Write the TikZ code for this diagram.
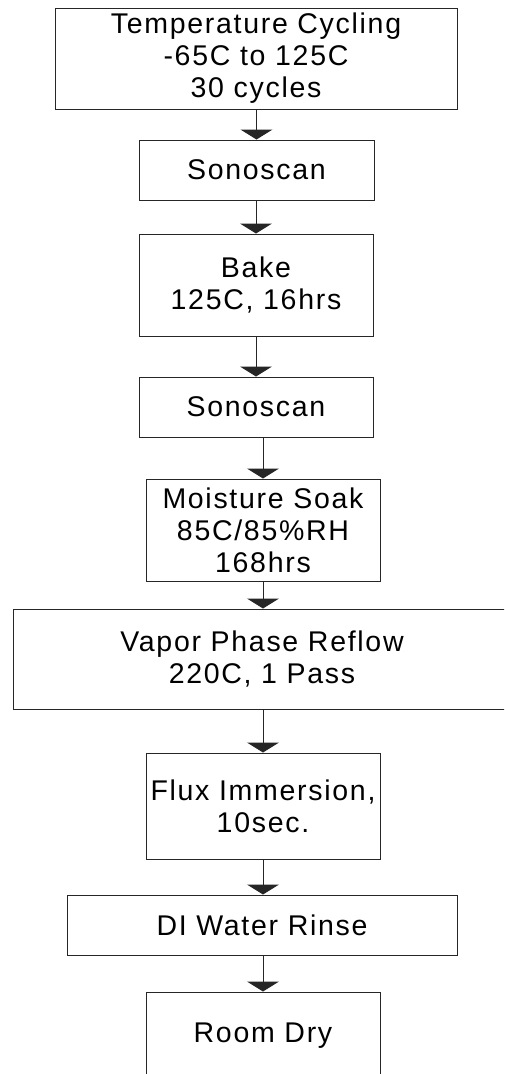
\documentclass[tikz,border=0pt]{standalone}
\usepackage{fontspec}
\newfontfamily\lsans[LetterSpace=6]{Liberation Sans}
\usetikzlibrary{arrows.meta}
\tikzset{
  stepbox/.style={draw=black!85, line width=1pt, inner sep=0pt, align=center,
    font=\lsans\fontsize{28.5}{32}\selectfont, text=black},
  flow/.style={draw=black!85, line width=1pt, -{Triangle[width=32pt,length=10pt]}}
}
\begin{document}
\begin{tikzpicture}[x=1pt,y=-1pt]
\useasboundingbox (0,0) rectangle (504,1074);
\clip (0,0) rectangle (504,1074);
\node[stepbox, minimum width=402pt, minimum height=101pt] (t1) at (256,58.5) {Temperature Cycling\\-65C to 125C\\30 cycles};
\node[stepbox, minimum width=235pt, minimum height=60pt] (t2) at (256.5,170) {Sonoscan};
\node[stepbox, minimum width=234pt, minimum height=102pt] (t3) at (256,285) {Bake\\125C, 16hrs};
\node[stepbox, minimum width=234pt, minimum height=60pt] (t4) at (256,407) {Sonoscan};
\node[stepbox, minimum width=234pt, minimum height=102pt] (t5) at (263,530) {Moisture Soak\\85C/85\%RH\\168hrs};
\node[stepbox, minimum width=498pt, minimum height=100pt] (t6) at (262,659) {Vapor Phase Reflow\\220C, 1 Pass};
\node[stepbox, minimum width=234pt, minimum height=106pt] (t7) at (263,806) {Flux Immersion,\\10sec.};
\node[stepbox, minimum width=390pt, minimum height=60pt] (t8) at (262,925) {DI Water Rinse};
\node[stepbox, minimum width=234pt, minimum height=88pt] (t9) at (263,1036) {Room Dry};
\draw[flow] (t1.south -| t2.north) -- (t2.north);
\draw[flow] (t2.south -| t3.north) -- (t3.north);
\draw[flow] (t3.south -| t4.north) -- (t4.north);
\draw[flow] (t4.south -| t5.north) -- (t5.north);
\draw[flow] (t5.south) -- (t5.south |- t6.north);
\draw[flow] (t6.south -| t7.north) -- (t7.north);
\draw[flow] (t7.south) -- (t7.south |- t8.north);
\draw[flow] (t8.south -| t9.north) -- (t9.north);
\end{tikzpicture}
\end{document}
